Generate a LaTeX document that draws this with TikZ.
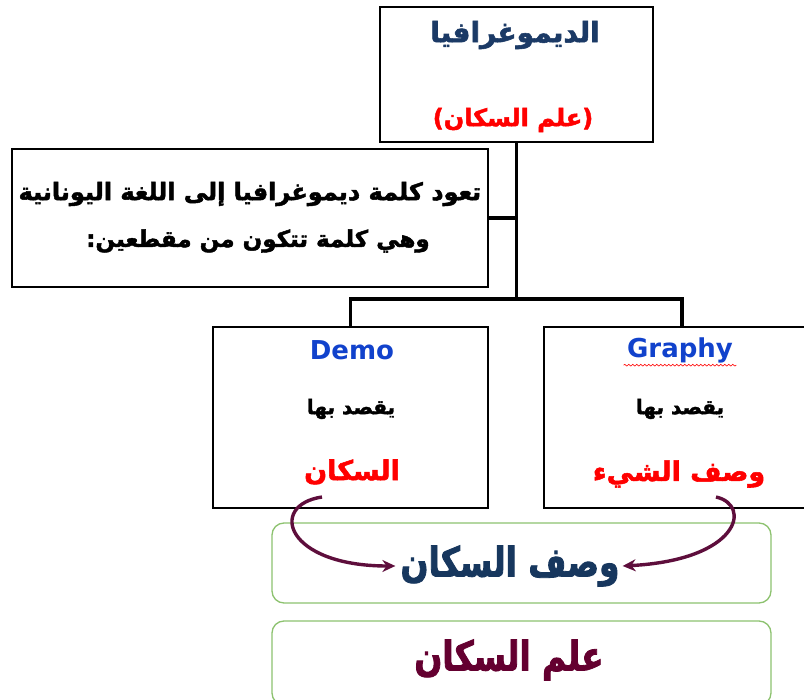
\documentclass[tikz,border=0pt]{standalone}
\usepackage{fontspec}
\usepackage{tikz}
\usetikzlibrary{arrows,arrows.meta,shapes,decorations.pathmorphing}
\TeXXeTstate=1
\newfontfamily\arabicfont[Script=Arabic,BoldFeatures={FakeBold=2}]{DejaVu Sans}
\newfontfamily\arabicnarrow[Script=Arabic,FakeStretch=0.8,BoldFeatures={FakeBold=2}]{DejaVu Sans}
\newfontfamily\latinfont{DejaVu Sans}

\definecolor{titlenavy}{HTML}{1B3A66}
\definecolor{wordred}{HTML}{FF0000}
\definecolor{demoblue}{HTML}{1142CC}
\definecolor{boxgreen}{HTML}{8DC26F}
\definecolor{arrowmaroon}{HTML}{5E0E3C}
\definecolor{sumnavy}{HTML}{17375E}
\definecolor{summaroon}{HTML}{640030}

\begin{document}
\begin{tikzpicture}[x=1pt,y=-1pt,
    rectbox/.style={draw=black,line width=1.3pt,inner sep=0pt},
    sumbox/.style={draw=boxgreen,line width=1.3pt,rounded corners=12pt,inner sep=0pt},
    tree/.style={line width=3.5pt,line cap=rect},
    ar/.style={inner sep=1pt},
    link/.style={draw=arrowmaroon,line width=3.4pt,-{Stealth[length=13pt,width=12pt]}}]
    \clip (0,0) rectangle (804,700);
    \fill[white] (0,0) rectangle (804,700);

    % boxes
    \node[rectbox,minimum width=273pt,minimum height=135pt] (title) at (516.5,74.5) {};
    \node[rectbox,minimum width=476pt,minimum height=138pt] (intro) at (250,218) {};
    \node[rectbox,minimum width=275pt,minimum height=181pt] (demo) at (350.5,417.5) {};
    \node[rectbox,minimum width=276pt,minimum height=181pt] (graphy) at (682,417.5) {};
    \node[sumbox,minimum width=499pt,minimum height=80pt] (wasfbox) at (521.5,563) {};
    \node[sumbox,minimum width=499pt,minimum height=84pt] (ilmbox) at (521.5,663) {};

    % texts
    \node[ar,text=titlenavy,font=\arabicfont\bfseries\fontsize{28}{32}\selectfont] (demogr) at (515,35) {\beginR الديموغرافيا\endR};
    \node[ar,text=wordred,font=\arabicfont\bfseries\fontsize{24}{28}\selectfont] (ilm) at (513,120) {\beginR (علم السكان)\endR};
    \node[ar,font=\arabicfont\bfseries\fontsize{24}{28}\selectfont] (line1) at (250,194) {\beginR تعود كلمة ديموغرافيا إلى اللغة اليونانية\endR};
    \node[ar,font=\arabicfont\bfseries\fontsize{23}{27}\selectfont] (line2) at (258,241) {\beginR وهي كلمة تتكون من مقطعين:\endR};

    \node[text=demoblue,font=\latinfont\bfseries\fontsize{26}{30}\selectfont] (demoword) at (352,350) {Demo};
    \node[ar,font=\arabicfont\bfseries\fontsize{20}{24}\selectfont] (yaqsad1) at (351,409) {\beginR يقصد بها\endR};
    \node[ar,text=wordred,font=\arabicfont\bfseries\fontsize{27}{31}\selectfont] (sakan) at (352,472) {\beginR السكان\endR};

    \node[text=demoblue,font=\latinfont\bfseries\fontsize{26}{30}\selectfont] (graphyword) at (680,350) {Graphy};
    \node[ar,font=\arabicfont\bfseries\fontsize{20}{24}\selectfont] (yaqsad2) at (680,409) {\beginR يقصد بها\endR};
    \node[ar,text=wordred,font=\arabicfont\bfseries\fontsize{27}{31}\selectfont] (shay) at (679,474) {\beginR وصف الشيء\endR};

    \node[ar,text=sumnavy,font=\arabicnarrow\bfseries\fontsize{41}{46}\selectfont] (wasf) at (510,566) {\beginR وصف السكان\endR};
    \node[ar,text=summaroon,font=\arabicnarrow\bfseries\fontsize{41}{46}\selectfont] (ilmsakan) at (509,660) {\beginR علم السكان\endR};

    % spelling mark under Graphy
    \draw[wordred,line width=0.6pt,decorate,decoration={snake,amplitude=0.9pt,segment length=4pt}]
        ([yshift=1pt]graphyword.south west) -- ([yshift=1pt]graphyword.south east);

    % tree
    \coordinate (fork) at (516.5,299);
    \draw[tree] (title.south) -- (fork);
    \draw[tree] (intro.east) -- (intro.east -| fork);
    \draw[tree] (demo.north) |- (fork) -| (graphy.north);

    % curved arrows
    \coordinate (demostart) at (322,497);
    \coordinate (graphystart) at (716,497);
    \draw[link] (demostart) .. controls (268,505) and (285,566) .. ([xshift=-4pt]wasf.west);
    \draw[link] (graphystart) .. controls (752,505) and (740,560) .. ([xshift=2pt]wasf.east);
\end{tikzpicture}
\end{document}
